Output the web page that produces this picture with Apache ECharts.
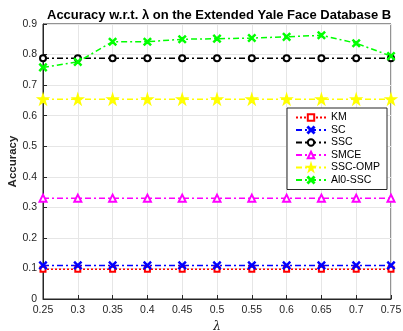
<!DOCTYPE html>
<html>
<head>
<meta charset="utf-8">
<script src="https://cdn.jsdelivr.net/npm/echarts@6/dist/echarts.min.js"></script>
<style>
  html, body { margin: 0; padding: 0; background: #fff; }
  #chart { width: 403px; height: 331px; }
</style>
</head>
<body>
<div id="chart"></div>
<script>
// lambda values on the x axis
const lambdas = ['0.25', '0.3', '0.35', '0.4', '0.45', '0.5', '0.55', '0.6', '0.65', '0.7', '0.75']

// accuracy per method
const km     = [0.097, 0.097, 0.097, 0.097, 0.097, 0.097, 0.097, 0.097, 0.097, 0.097, 0.097]
const sc     = [0.110, 0.110, 0.110, 0.110, 0.110, 0.110, 0.110, 0.110, 0.110, 0.110, 0.110]
const ssc    = [0.788, 0.788, 0.788, 0.788, 0.788, 0.788, 0.788, 0.788, 0.788, 0.788, 0.788]
const smce   = [0.330, 0.330, 0.330, 0.330, 0.330, 0.330, 0.330, 0.330, 0.330, 0.330, 0.330]
const sscOmp = [0.654, 0.654, 0.654, 0.654, 0.654, 0.654, 0.654, 0.654, 0.654, 0.654, 0.654]
const al0Ssc = [0.758, 0.776, 0.842, 0.842, 0.850, 0.852, 0.854, 0.858, 0.863, 0.837, 0.795]

const yTicks = { min: 0, max: 0.9, step: 0.1 }

// marker shapes
const crossPath = 'path://M0,1L1,0L5,4L9,0L10,1L6,5L10,9L9,10L5,6L1,10L0,9L4,5Z'
const starPath = 'path://M50,0L61,35L98,35L68,57L79,91L50,70L21,91L32,57L2,35L39,35Z'
const dashDot = [6, 3, 2, 3]

const chart = echarts.init(document.getElementById('chart'))

const mk = (name, data, color, symbol, size, dash) => ({
  name,
  type: 'line',
  data,
  symbol,
  symbolSize: size,
  showAllSymbol: true,
  lineStyle: { color, width: 1.5, type: dash },
  itemStyle: { color, borderColor: color, borderWidth: 1.5 },
  emphasis: { disabled: true },
  z: 3
})

chart.setOption({
  animation: false,
  backgroundColor: '#fff',
  textStyle: { fontFamily: 'Liberation Sans, Arial, sans-serif' },
  title: {
    text: 'Accuracy w.r.t. λ on the Extended Yale Face Database B',
    left: 42,
    top: 4,
    textStyle: { fontSize: 13, fontWeight: 'bold', color: '#000' }
  },
  grid: {
    left: 43, right: 12, top: 24, bottom: 32,
    outerBoundsMode: 'none',
    containLabel: false,
    show: true, borderColor: '#262626', borderWidth: 1
  },
  legend: {
    orient: 'vertical',
    left: 287,
    top: 108,
    padding: [4, 7, 4, 8],
    itemGap: 1.5,
    itemWidth: 30,
    itemHeight: 8,
    backgroundColor: '#fff',
    borderColor: '#262626',
    borderWidth: 1,
    textStyle: { fontSize: 10.5, color: '#000' },
    data: ['KM', 'SC', 'SSC', 'SMCE', 'SSC-OMP', 'Al0-SSC']
  },
  xAxis: {
    type: 'category',
    data: lambdas,
    boundaryGap: false,
    name: 'λ',
    nameLocation: 'middle',
    nameGap: 22,
    nameMoveOverlap: false,
    nameTextStyle: { fontSize: 12, color: '#262626', fontStyle: 'italic', fontFamily: 'DejaVu Serif' },
    axisLine: { lineStyle: { color: '#262626' } },
    axisTick: { inside: true, length: 4, lineStyle: { color: '#262626' } },
    axisLabel: { fontSize: 10.5, color: '#262626', margin: 6 },
    splitLine: { show: true, lineStyle: { color: '#e6e6e6' } }
  },
  yAxis: {
    type: 'value',
    min: yTicks.min,
    max: yTicks.max,
    interval: yTicks.step,
    name: 'Accuracy',
    nameLocation: 'middle',
    nameGap: 24,
    nameMoveOverlap: false,
    nameTextStyle: { fontSize: 11.5, fontWeight: 'bold', color: '#262626' },
    axisLine: { show: true, lineStyle: { color: '#262626' } },
    axisTick: { show: true, inside: true, length: 4, lineStyle: { color: '#262626' } },
    axisLabel: {
      fontSize: 10.5, color: '#262626', margin: 6,
      formatter: v => (Math.round(v * 10) / 10).toString()
    },
    splitLine: { show: true, lineStyle: { color: '#e6e6e6' } }
  },
  series: [
    mk('KM', km, '#ff0000', 'emptyRect', 5, [2, 2]),
    mk('SC', sc, '#0000ff', crossPath, 7, dashDot),
    mk('SSC', ssc, '#000000', 'emptyCircle', 6, dashDot),
    mk('SMCE', smce, '#ff00ff', 'emptyTriangle', 7, dashDot),
    mk('SSC-OMP', sscOmp, '#ffff00', starPath, 10, dashDot),
    mk('Al0-SSC', al0Ssc, '#00ff00', crossPath, 7, dashDot)
  ]
})
</script>
</body>
</html>
